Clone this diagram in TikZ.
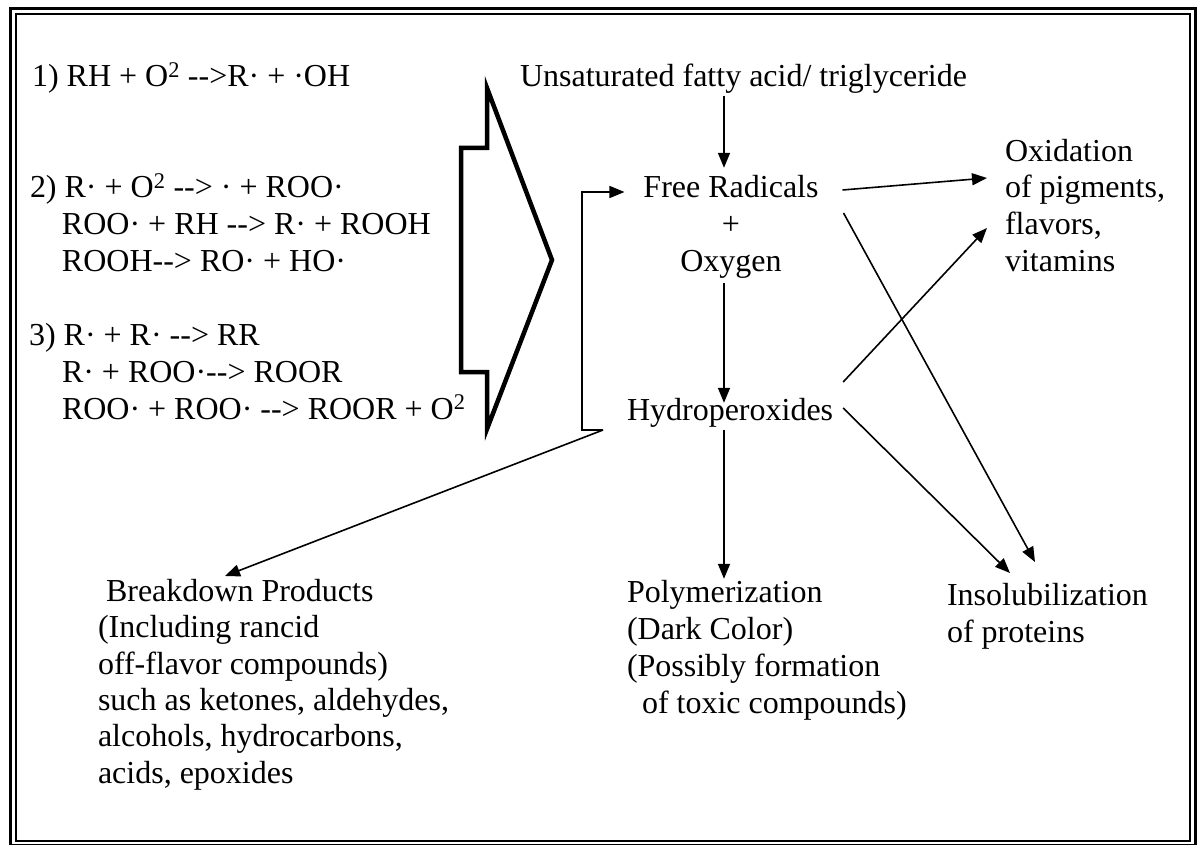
\documentclass[tikz,border=0pt]{standalone}
\usepackage{fontspec}
\setmainfont{Liberation Serif}
\usetikzlibrary{arrows.meta,calc}
\begin{document}
\begin{tikzpicture}[x=1pt,y=-1pt,
  txt/.style={inner sep=0pt,outer sep=0pt,anchor=base west,align=left,font=\fontsize{32}{37}\selectfont},
  ctxt/.style={txt,anchor=base,align=center},
  conn/.style={line width=1.6pt,-{Triangle[length=15pt,width=12pt]}},
  bigarrow/.style={line width=4.5pt,line join=miter,miter limit=10},
  frameouter/.style={line width=3pt},
  frameinner/.style={line width=1.4pt}]
\useasboundingbox (0,0) rectangle (1197,845);
\fill[white] (0,0) rectangle (1197,845);
\draw[frameouter] (10.5,9) rectangle (1195,845.5);
\draw[frameinner] (16,14) rectangle (1190,841);

% reaction text (multi-line nodes: base = last line)
\node[txt] (r1) at (32,87) {1) RH + O\textsuperscript{2} -{}->R· + ·OH};
\node[txt] (r2) at (30,272) {2) R· + O\textsuperscript{2} -{}-> · + ROO·\\\hspace*{32pt}ROO· + RH -{}-> R· + ROOH\\\hspace*{32pt}ROOH-{}-> RO· + HO·};
\node[txt] (r3) at (29,419) {3) R· + R· -{}-> RR\\\hspace*{33pt}R· + ROO·-{}-> ROOR\\\hspace*{33pt}ROO· + ROO· -{}-> ROOR + O\textsuperscript{2}};

% big arrow
\draw[bigarrow] (487,88) -- (552,260) -- (487,429) -- (487,372) -- (461,372) -- (461,148) -- (487,148) -- cycle;

% scheme nodes
\node[txt] (unsat) at (520,87) {Unsaturated fatty acid/ triglyceride};
\node[ctxt] (free) at (731,272) {Free Radicals\\+\\Oxygen};
\node[txt] (hydro) at (627,420) {Hydroperoxides};
\node[txt] (oxid) at (1005,272) {Oxidation\\of pigments,\\flavors,\\vitamins};
\node[txt] (poly) at (627,713) {Polymerization\\(Dark Color)\\(Possibly formation\\\hspace*{15pt}of toxic compounds)};
\node[txt] (insol) at (947,642) {Insolubilization\\of proteins};
\node[txt,font=\fontsize{32}{36.3}\selectfont] (brk) at (98,783) {\hspace*{8pt}Breakdown Products\\(Including rancid\\off-flavor compounds)\\such as ketones, aldehydes,\\alcohols, hydrocarbons,\\acids, epoxides};

% connectors
\coordinate (col) at (724,0);
\draw[conn] ($(unsat.south -| col)+(0,2)$) -- ($(free.north -| col)+(0,-8)$);
\draw[conn] ($(free.south -| col)+(0,4)$) -- ($(hydro.north -| col)+(0,5)$);
\draw[conn] ($(hydro.south -| col)+(0,3)$) -- ($(poly.north -| col)+(0,-1)$);

\draw[conn] ($(free.base east)+(24,-82)$) -- ($(oxid.base west)+(-18,-94)$);
\draw[conn] ($(free.base east)+(25,-59)$) -- ($(insol.base west)+(88,-80)$);
\draw[conn] ($(hydro.base east)+(10,-38)$) -- ($(oxid.base west)+(-18,-44)$);
\draw[conn] ($(hydro.base east)+(10,-12)$) -- ($(insol.base west)+(63,-69)$);

\coordinate (fb) at ($(hydro.base west)+(-24,10)$);
\draw[conn] (fb) -- ++(-21,0) |- ($(free.base west)+(-19,-80)$);
\draw[conn] (fb) -- ($(brk.base west)+(127,-207)$);
\end{tikzpicture}
\end{document}
